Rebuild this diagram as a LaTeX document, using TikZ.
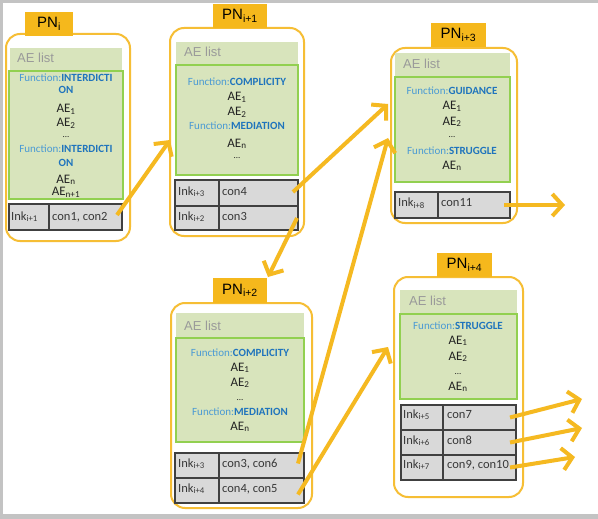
\documentclass[tikz,border=0pt]{standalone}
\usepackage{fontspec}
\setmainfont{Carlito}
\newfontfamily\arialf{Liberation Sans}
\usetikzlibrary{arrows.meta,calc}
\definecolor{framegray}{HTML}{C3C3C3}
\definecolor{orline}{HTML}{F6BE35}
\definecolor{orarrow}{HTML}{F5B921}
\definecolor{orlabel}{HTML}{F5B81C}
\definecolor{lgreen}{HTML}{D8E4BC}
\definecolor{gline}{HTML}{92D050}
\definecolor{tgray}{HTML}{D9D9D9}
\definecolor{tline}{HTML}{404040}
\definecolor{aegray}{HTML}{9A9A9A}
\definecolor{fblue}{HTML}{4A9AD4}
\definecolor{fbold}{HTML}{1F74BC}
\definecolor{txt}{HTML}{222222}
\newcommand\mkrect[6]{%
  \pgfmathsetmacro\rw{#5-#3}\pgfmathsetmacro\rh{#6-#4}%
  \node[#1, anchor=north west, minimum width=\rw pt, minimum height=\rh pt,
        inner sep=0pt, outer sep=0pt] (#2) at (#3,#4) {};}
\newcommand\fnc[1]{{\color{fblue}Function:}{\bfseries\color{fbold}#1}}
\newcommand\bw[1]{{\bfseries\color{fbold}#1}}
\begin{document}
\begin{tikzpicture}[x=1pt,y=-1pt,
  pnbox/.style={draw=orline, line width=2pt, rounded corners=14pt, fill=white},
  pnlabel/.style={fill=orlabel, inner sep=0pt, outer sep=0pt, font=\arialf\fontsize{15}{17}\selectfont},
  aehead/.style={fill=lgreen},
  aegreen/.style={fill=lgreen, draw=gline, line width=1.5pt},
  cell/.style={fill=tgray, draw=tline, line width=1.2pt},
  aelist/.style={anchor=base west, inner sep=0pt, text=aegray, font=\arialf\fontsize{13}{15}\selectfont},
  fline/.style={anchor=base, inner sep=0pt, font=\fontsize{11}{13}\selectfont},
  aeline/.style={anchor=base, inner sep=0pt, text=txt, font=\fontsize{13}{15}\selectfont},
  ctext/.style={anchor=base west, inner sep=0pt, text=txt!90, font=\fontsize{12.5}{14}\selectfont},
  link/.style={draw=orarrow, line width=4pt, -{Straight Barb[length=10pt,width=22pt]}}
]
\useasboundingbox (0,0) rectangle (598,519);
\fill[framegray] (0,0) rectangle (598,519);
\fill[white] (3,3) rectangle (598,514);

% ---------- PN_i ----------
\mkrect{pnbox}{b0}{6}{34}{130}{241}
\mkrect{pnlabel}{b0l}{25}{12}{73}{36}
\node[pnlabel, fill=none] (b0t) at (b0l.center) {PN\textsubscript{i}};
\mkrect{aehead}{b0h}{10}{48}{122}{71}
\node[aelist] (b0a) at (17,63) {AE list};
\mkrect{aegreen}{b0g}{9}{71}{123}{199}
\node[fline] (b0f1) at (66,82) {\fnc{INTERDICTI}};
\node[fline] (b0f1b) at (66,94) {\bw{ON}};
\node[aeline] (b0e1) at (66,113) {AE\textsubscript{1}};
\node[aeline] (b0e2) at (66,127) {AE\textsubscript{2}};
\node[aeline] (b0d) at (66,138) {\fontsize{9}{10}\selectfont...};
\node[fline] (b0f2) at (66,153) {\fnc{INTERDICTI}};
\node[fline] (b0f2b) at (66,166) {\bw{ON}};
\node[aeline] (b0en) at (66,183) {AE\textsubscript{n}};
\node[aeline] (b0en1) at (66,196) {AE\textsubscript{n+1}};
\mkrect{cell}{b0c11}{9}{204}{49}{230}
\mkrect{cell}{b0c12}{49}{204}{122}{230}
\node[ctext] (b0k1) at (11,220) {Ink\textsubscript{i+1}};
\node[ctext] (b0n1) at (52,220) {con1, con2};

% ---------- PN_{i+1} ----------
\mkrect{pnbox}{b1}{170}{28}{304}{236}
\mkrect{pnlabel}{b1l}{213}{4}{267}{28}
\node[pnlabel, fill=none] (b1t) at (b1l.center) {PN\textsubscript{i+1}};
\mkrect{aehead}{b1h}{176}{42}{298}{65}
\node[aelist] (b1a) at (184,57) {AE list};
\mkrect{aegreen}{b1g}{176}{65}{298}{175}
\node[fline] (b1f1) at (237,86) {\fnc{COMPLICITY}};
\node[aeline] (b1e1) at (237,101) {AE\textsubscript{1}};
\node[aeline] (b1e2) at (237,116) {AE\textsubscript{2}};
\node[fline] (b1f2) at (237,130) {\fnc{MEDIATION}};
\node[aeline] (b1en) at (237,147) {AE\textsubscript{n}};
\node[aeline] (b1d) at (237,159) {\fontsize{9}{10}\selectfont...};
\mkrect{cell}{b1c11}{175}{180}{219}{206}
\mkrect{cell}{b1c12}{219}{180}{298}{206}
\mkrect{cell}{b1c21}{175}{206}{219}{230}
\mkrect{cell}{b1c22}{219}{206}{298}{230}
\node[ctext] (b1k1) at (178,195) {Ink\textsubscript{i+3}};
\node[ctext] (b1n1) at (222,195) {con4};
\node[ctext] (b1k2) at (178,220) {Ink\textsubscript{i+2}};
\node[ctext] (b1n2) at (222,220) {con3};

% ---------- PN_{i+3} ----------
\mkrect{pnbox}{b3}{391}{48}{517}{223}
\mkrect{pnlabel}{b3l}{431}{23}{486}{47}
\node[pnlabel, fill=none] (b3t) at (b3l.center) {PN\textsubscript{i+3}};
\mkrect{aehead}{b3h}{395}{53}{510}{77}
\node[aelist] (b3a) at (403,69) {AE list};
\mkrect{aegreen}{b3g}{395}{77}{510}{182}
\node[fline] (b3f1) at (452,95) {\fnc{GUIDANCE}};
\node[aeline] (b3e1) at (452,110) {AE\textsubscript{1}};
\node[aeline] (b3e2) at (452,125) {AE\textsubscript{2}};
\node[aeline] (b3d) at (452,138) {\fontsize{9}{10}\selectfont...};
\node[fline] (b3f2) at (452,154) {\fnc{STRUGGLE}};
\node[aeline] (b3en) at (452,169) {AE\textsubscript{n}};
\mkrect{cell}{b3c11}{395}{192}{438}{218}
\mkrect{cell}{b3c12}{438}{192}{510}{218}
\node[ctext] (b3k1) at (398,207) {Ink\textsubscript{i+8}};
\node[ctext] (b3n1) at (441,207) {con11};

% ---------- PN_{i+2} ----------
\mkrect{pnbox}{b2}{171}{303}{312}{508}
\mkrect{pnlabel}{b2l}{213}{278}{267}{303}
\node[pnlabel, fill=none] (b2t) at (b2l.center) {PN\textsubscript{i+2}};
\mkrect{aehead}{b2h}{176}{313}{304}{338}
\node[aelist] (b2a) at (184,330) {AE list};
\mkrect{aegreen}{b2g}{176}{338}{304}{442}
\node[fline] (b2f1) at (240,356) {\fnc{COMPLICITY}};
\node[aeline] (b2e1) at (240,371) {AE\textsubscript{1}};
\node[aeline] (b2e2) at (240,386) {AE\textsubscript{2}};
\node[aeline] (b2d) at (240,400) {\fontsize{9}{10}\selectfont...};
\node[fline] (b2f2) at (240,415) {\fnc{MEDIATION}};
\node[aeline] (b2en) at (240,430) {AE\textsubscript{n}};
\mkrect{cell}{b2c11}{175}{453}{219}{478}
\mkrect{cell}{b2c12}{219}{453}{304}{478}
\mkrect{cell}{b2c21}{175}{478}{219}{503}
\mkrect{cell}{b2c22}{219}{478}{304}{503}
\node[ctext] (b2k1) at (178,467) {Ink\textsubscript{i+3}};
\node[ctext] (b2n1) at (222,467) {con3, con6};
\node[ctext] (b2k2) at (178,492) {Ink\textsubscript{i+4}};
\node[ctext] (b2n2) at (222,492) {con4, con5};

% ---------- PN_{i+4} ----------
\mkrect{pnbox}{b4}{394}{277}{523}{497}
\mkrect{pnlabel}{b4l}{437}{253}{492}{277}
\node[pnlabel, fill=none] (b4t) at (b4l.center) {PN\textsubscript{i+4}};
\mkrect{aehead}{b4h}{400}{290}{517}{314}
\node[aelist] (b4a) at (409,305) {AE list};
\mkrect{aegreen}{b4g}{400}{314}{517}{399}
\node[fline] (b4f1) at (458,329) {\fnc{STRUGGLE}};
\node[aeline] (b4e1) at (458,344) {AE\textsubscript{1}};
\node[aeline] (b4e2) at (458,360) {AE\textsubscript{2}};
\node[aeline] (b4d) at (458,374) {\fontsize{9}{10}\selectfont...};
\node[aeline] (b4en) at (458,390) {AE\textsubscript{n}};
\mkrect{cell}{b4c11}{401}{405}{443}{430}
\mkrect{cell}{b4c12}{443}{405}{516}{430}
\mkrect{cell}{b4c21}{401}{430}{443}{455}
\mkrect{cell}{b4c22}{443}{430}{516}{455}
\mkrect{cell}{b4c31}{401}{455}{443}{480}
\mkrect{cell}{b4c32}{443}{455}{516}{480}
\node[ctext] (b4k1) at (403,418) {Ink\textsubscript{i+5}};
\node[ctext] (b4n1) at (447,418) {con7};
\node[ctext] (b4k2) at (403,444) {Ink\textsubscript{i+6}};
\node[ctext] (b4n2) at (447,444) {con8};
\node[ctext] (b4k3) at (403,468) {Ink\textsubscript{i+7}};
\node[ctext] (b4n3) at (447,468) {con9, con10};

% ---------- connectors ----------
\coordinate (h1) at (170,140);
\coordinate (h2) at (388,104);
\coordinate (h3) at (268,277);
\coordinate (h4) at (388,138);
\coordinate (h5) at (388,347);
\coordinate (h6) at (565,205);
\coordinate (h7) at (582,399);
\coordinate (h8) at (582,428);
\coordinate (h9) at (575,457);
\draw[link] ($(b0c12.east)+(-5,-2)$) -- (h1);
\draw[link] ($(b1c12.east)+(-5,-1)$) -- (h2);
\draw[link] ($(b1c22.east)+(-1,0)$) -- (h3);
\draw[link] ($(b2c12.east)+(-6,-2)$) -- (h4);
\draw[link] ($(b2c22.east)+(-6,4)$) -- (h5);
\draw[link] ($(b3c12.east)+(-6,0)$) -- (h6);
\draw[link] ($(b4c12.east)+(-6,0)$) -- (h7);
\draw[link] ($(b4c22.east)+(-6,0)$) -- (h8);
\draw[link] ($(b4c32.east)+(-6,0)$) -- (h9);
\end{tikzpicture}
\end{document}
